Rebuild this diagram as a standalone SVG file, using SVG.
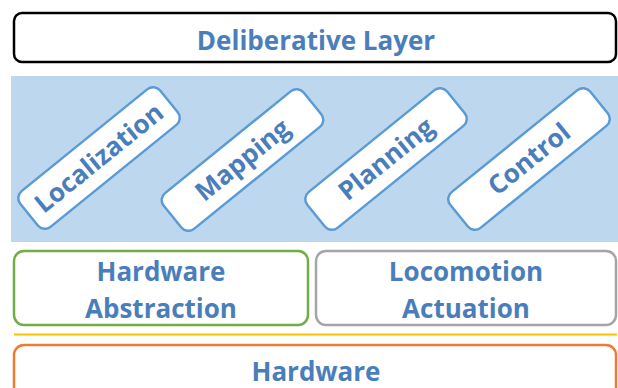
<svg xmlns="http://www.w3.org/2000/svg" width="618" height="388" viewBox="0 0 618 388">
  <style>
    .lbl { font-family: "Open Sans", "Liberation Sans", sans-serif; font-weight: bold; font-size: 26px; fill: #4A7EBB; text-anchor: middle; }
    .box { fill: #FFFFFF; stroke-width: 2.5; }
    .mod { fill: #FFFFFF; stroke: #5B9BD5; stroke-width: 2.5; }
  </style>

  <rect x="0" y="0" width="618" height="388" fill="#FFFFFF"/>

  <!-- top layer -->
  <g id="deliberative">
    <rect class="box" x="14" y="13" width="602" height="49" rx="8" stroke="#000000"/>
    <text class="lbl" x="316" y="50">Deliberative Layer</text>
  </g>

  <!-- band holding the tilted modules -->
  <g id="modules-band">
    <rect x="11" y="76" width="607" height="166" fill="#BDD7EE"/>
  </g>

  <g id="localization" transform="translate(99 158) rotate(-39)">
    <rect class="mod" x="-90" y="-23" width="180" height="46" rx="9"/>
    <text class="lbl" x="0" y="9">Localization</text>
  </g>
  <g id="mapping" transform="translate(242.5 160) rotate(-39)">
    <rect class="mod" x="-90" y="-23" width="180" height="46" rx="9"/>
    <text class="lbl" x="0" y="9">Mapping</text>
  </g>
  <g id="planning" transform="translate(386 159) rotate(-39)">
    <rect class="mod" x="-90" y="-23" width="180" height="46" rx="9"/>
    <text class="lbl" x="0" y="9">Planning</text>
  </g>
  <g id="control" transform="translate(529 159) rotate(-39)">
    <rect class="mod" x="-90" y="-23" width="180" height="46" rx="9"/>
    <text class="lbl" x="0" y="9">Control</text>
  </g>

  <g id="hardware-abstraction">
    <rect class="box" x="14" y="251" width="294" height="74" rx="10" stroke="#70AD47"/>
    <text class="lbl" x="161" y="281">Hardware</text>
    <text class="lbl" x="161" y="318">Abstraction</text>
  </g>

  <g id="locomotion-actuation">
    <rect class="box" x="316" y="251" width="300" height="74" rx="10" stroke="#A5A5A5"/>
    <text class="lbl" x="466" y="281">Locomotion</text>
    <text class="lbl" x="466" y="318">Actuation</text>
  </g>

  <!-- divider between software and hardware -->
  <g id="connectors">
    <line x1="14" y1="334.5" x2="617" y2="334.5" stroke="#FFC000" stroke-width="2"/>
  </g>

  <g id="hardware">
    <rect class="box" x="14" y="345" width="602" height="60" rx="10" stroke="#ED7D31"/>
    <text class="lbl" x="316" y="381">Hardware</text>
  </g>
</svg>
